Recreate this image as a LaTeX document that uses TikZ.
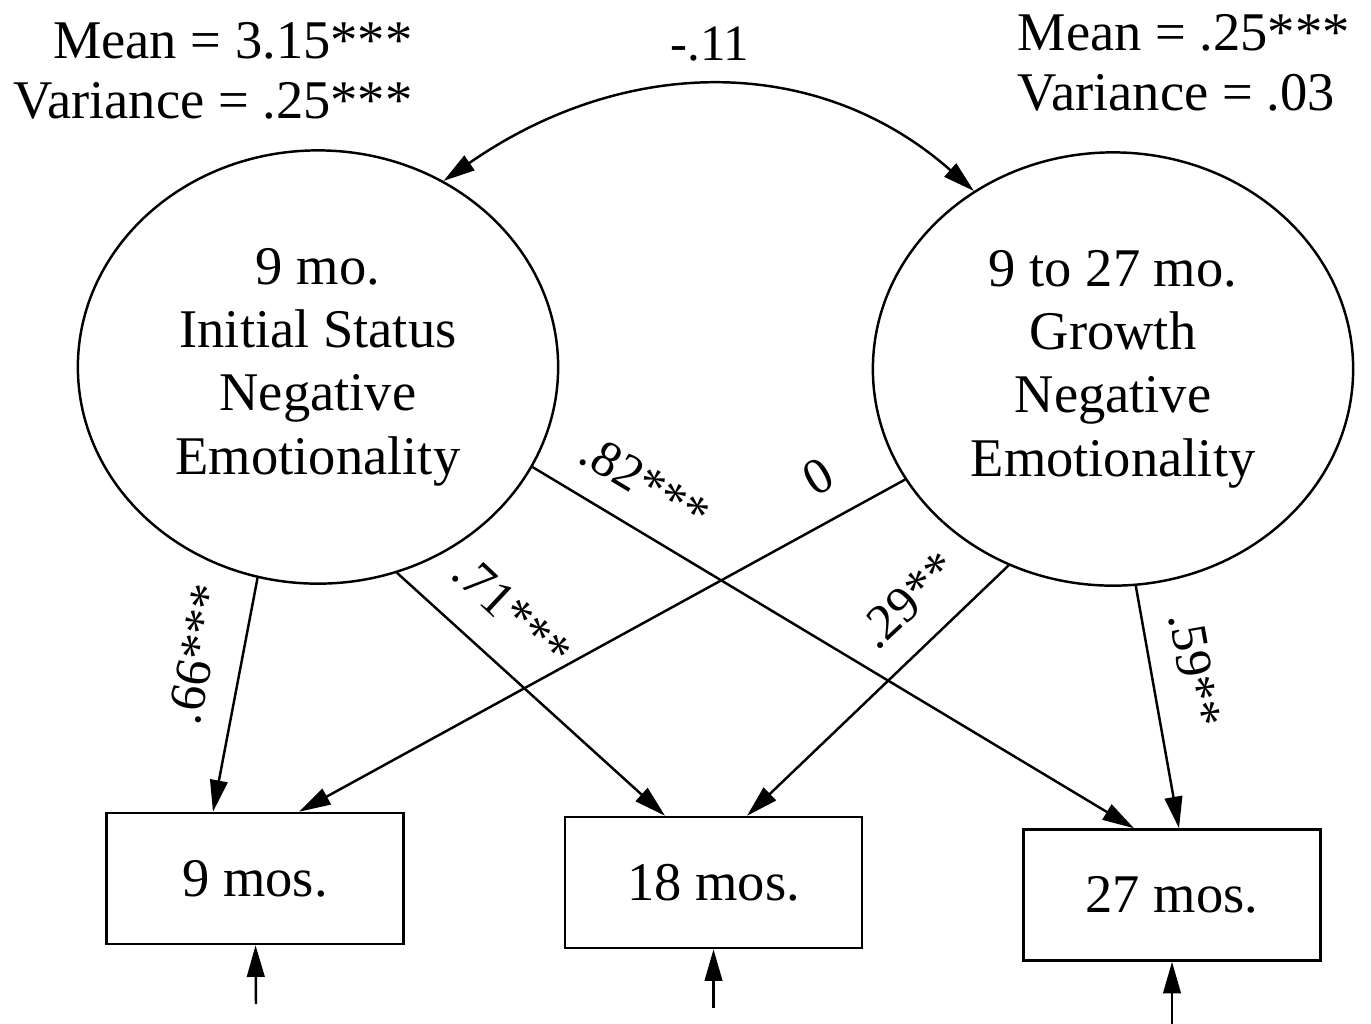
\documentclass[tikz,border=0pt]{standalone}
\usepackage{fontspec}
\setmainfont{Liberation Serif}
\usetikzlibrary{arrows.meta}
\usetikzlibrary{positioning,calc}
\usetikzlibrary{shapes.geometric}
\tikzset{
  latent/.style={ellipse,draw,line width=0.7pt,minimum width=4.8cm,
    minimum height=4.33cm,inner sep=0pt,align=center,
    font=\fontsize{15.5}{18}\selectfont},
  obs/.style={rectangle,draw,line width=0.7pt,minimum width=2.97cm,
    minimum height=1.31cm,inner sep=0pt,font=\fontsize{15.5}{18}\selectfont},
  note/.style={inner sep=0pt,font=\fontsize{15.5}{17}\selectfont},
  coef/.style={inner sep=0pt,font=\fontsize{14.5}{16}\selectfont},
  path/.style={-{Triangle[length=9pt,width=5pt]},line width=0.7pt},
  covpath/.style={{Triangle[length=9pt,width=5pt]}-{Triangle[length=9pt,width=5pt]},
    line width=0.7pt},
}
\begin{document}
\begin{tikzpicture}[x=0.01cm,y=-0.01cm]
    \useasboundingbox (0,0) rectangle (1371,1023);
    % latent factors
    \node[latent] (ini) at (318,367) {9 mo.\\Initial Status\\Negative\\Emotionality};
    \node[latent] (gro) at (1113,369) {9 to 27 mo.\\Growth\\Negative\\Emotionality};
    % observed waves
    \node[obs] (b9) at (255,878.5) {9 mos.};
    \node[obs] (b18) at (713.5,882.5) {18 mos.};
    \node[obs] (b27) at (1172,895) {27 mos.};
    \coordinate (e9) at (256,1004);
    \coordinate (e18) at (713.5,1008);
    \coordinate (e27) at (1172,1030);
    % means and variances
    \node[note,anchor=north east,align=right] (mvini) at (413,22)
      {Mean = 3.15***\\Variance = .25***};
    \node[note,anchor=north west,align=left] (mvgro) at (1017,14)
      {Mean = .25***\\Variance = .03};
    % covariance
    \draw[covpath] (ini.56) .. controls (626,54) and (819,54) .. (gro.128);
    \node[coef,anchor=base] (cov) at (710,60) {-.11};
    % loadings
    \draw[path] (ini.254) -- ([xshift=-0.42cm]b9.north);
    \draw[path] (ini.291) -- ([xshift=-0.485cm]b18.north);
    \draw[path] (ini.335) -- ([xshift=-0.38cm]b27.north);
    \draw[path] (gro.208.5) -- ([xshift=0.44cm]b9.north);
    \draw[path] (gro.242) -- ([xshift=0.335cm]b18.north);
    \draw[path] (gro.276) -- ([xshift=0.07cm]b27.north);
    \node[coef,rotate=79] (l66) at (197,654) {.66***};
    \node[coef,rotate=-43] (l71) at (512,612) {.71***};
    \node[coef,rotate=-31] (l82) at (645,483) {.82***};
    \node[coef,rotate=30] (l0) at (818,477) {0};
    \node[coef,rotate=43] (l29) at (908,600) {.29**};
    \node[coef,rotate=-80] (l59) at (1195,670) {.59**};
    % residuals
    \draw[path] (e9) -- (b9);
    \draw[path] (e18) -- (b18);
    \draw[path] (e27) -- (b27);
\end{tikzpicture}
\end{document}
